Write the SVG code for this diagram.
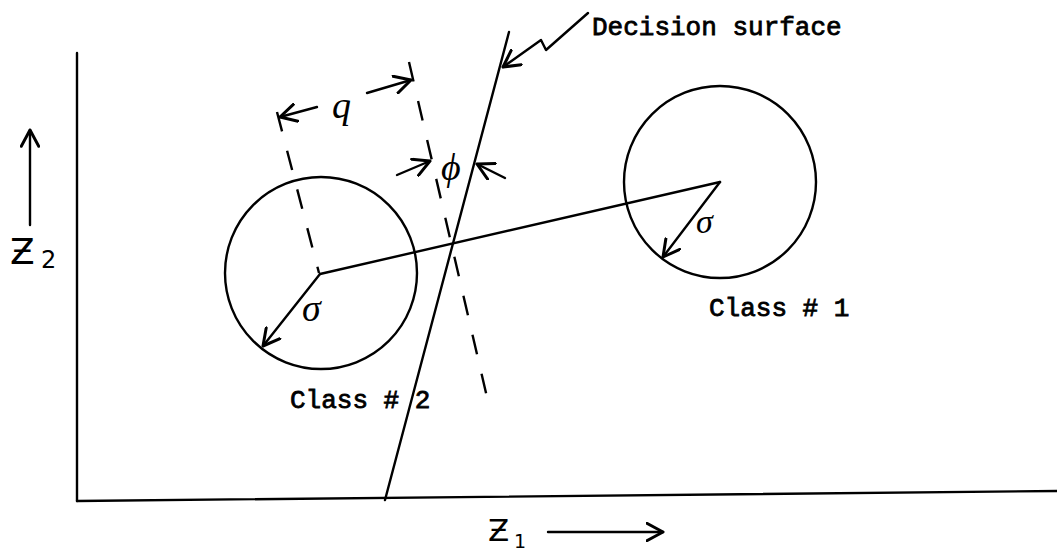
<svg xmlns="http://www.w3.org/2000/svg" width="1057" height="553" viewBox="0 0 1057 553">
<style>
.ln{fill:none;stroke:#000;stroke-width:2.4;stroke-linecap:round;stroke-linejoin:round}
.dash{fill:none;stroke:#000;stroke-width:2.4;stroke-dasharray:20 20}
.tt{font-family:"Liberation Mono","Courier New",monospace;font-size:26px;fill:#000;stroke:#000;stroke-width:0.8}
.hw{font-family:"DejaVu Sans","Liberation Sans",sans-serif;fill:#000}
.gk{font-family:"Liberation Serif","DejaVu Serif",serif;font-style:italic;fill:#000}
</style>
<defs>
<marker id="ah" markerUnits="userSpaceOnUse" markerWidth="20" markerHeight="20" refX="14" refY="8" orient="auto" viewBox="0 0 16 16">
<path d="M1,1 L14,8 L1,15" fill="none" stroke="#000" stroke-width="2.4" stroke-linecap="round" stroke-linejoin="round"/>
</marker>
</defs>

<g id="axes">
<path class="ln" d="M77,53 L77,501"/>
<path class="ln" d="M77,501 L1057,491"/>
</g>

<g id="z2-label">
<path class="ln" d="M30,225 L30,130" marker-end="url(#ah)"/>
<text class="hw" x="10" y="264" font-size="36">Ƶ</text>
<text class="hw" x="41" y="268" font-size="24">2</text>
</g>

<g id="z1-label">
<text class="hw" x="488" y="541" font-size="31">Ƶ</text>
<text class="hw" x="514" y="548" font-size="19">1</text>
<path class="ln" d="M548,532 L663,532" marker-end="url(#ah)"/>
</g>

<g id="class2">
<circle class="ln" cx="321" cy="273" r="96"/>
<path class="ln" d="M320,274 L263,346" marker-end="url(#ah)"/>
<text class="gk" x="302" y="321" font-size="38">σ</text>
<text class="tt" x="290" y="408">Class # 2</text>
</g>

<g id="class1">
<circle class="ln" cx="720" cy="182" r="96"/>
<path class="ln" d="M720,182 L663,257" marker-end="url(#ah)"/>
<text class="gk" x="696" y="233" font-size="34">σ</text>
<text class="tt" x="709" y="316">Class # 1</text>
</g>

<g id="decision-surface">
<path class="ln" d="M385,500 L509,32"/>
<path class="ln" d="M588,13 L546,50 L541,40 L503,67" marker-end="url(#ah)"/>
<text class="tt" x="592" y="35">Decision surface</text>
</g>

<g id="connectors">
<path class="ln" d="M320,274 L720,182"/>
<path class="dash" d="M277,112 L319,273"/>
<path class="dash" d="M409,62 L490,410"/>
<path class="ln" d="M317,107 L280,117" marker-end="url(#ah)"/>
<path class="ln" d="M367,93 L411,80" marker-end="url(#ah)"/>
<path class="ln" d="M397,175 L430,161" marker-end="url(#ah)"/>
<path class="ln" d="M505,178 L477,164" marker-end="url(#ah)"/>
</g>

<g id="angle-labels">
<text class="gk" x="332" y="118" font-size="38">q</text>
<text class="gk" x="441" y="180" font-size="38">ϕ</text>
</g>
</svg>
